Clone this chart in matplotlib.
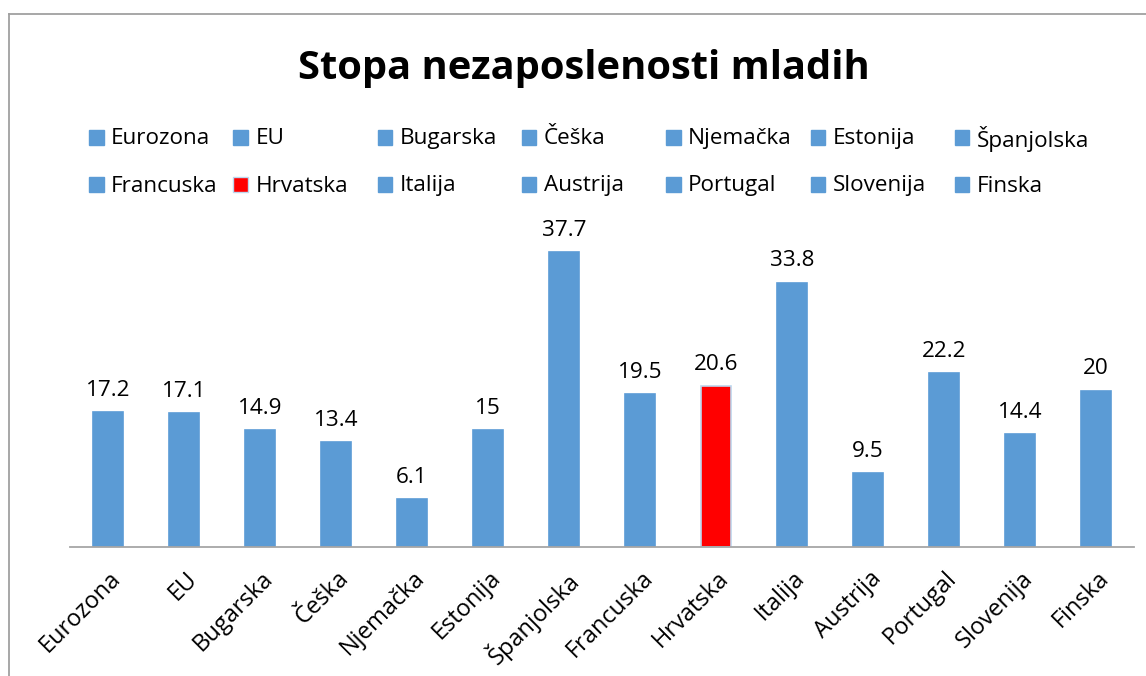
import matplotlib
matplotlib.use("Agg")
import matplotlib.pyplot as plt
import matplotlib.transforms as mtransforms
from matplotlib.patches import Rectangle
from matplotlib.lines import Line2D

categories = ["Eurozona", "EU", "Bugarska", "Češka", "Njemačka", "Estonija", "Španjolska",
              "Francuska", "Hrvatska", "Italija", "Austrija", "Portugal", "Slovenija", "Finska"]
values = [17.2, 17.1, 14.9, 13.4, 6.1, 15, 37.7, 19.5, 20.6, 33.8, 9.5, 22.2, 14.4, 20]
title = "Stopa nezaposlenosti mladih"

BLUE = "#5B9BD5"
RED = "#FF0000"
colors = [RED if c == "Hrvatska" else BLUE for c in categories]
edges = ["#BDD7EE" if c == "Hrvatska" else BLUE for c in categories]

plt.rcParams['font.family'] = ['Open Sans', 'DejaVu Sans']
FS = 16.2

W, H = 1146, 676
fig = plt.figure(figsize=(W / 100, H / 100), dpi=100)

def fx(px):
    return px / W

def fy(py):
    return 1 - py / H

# chart border (cropped on right/bottom)
fig.add_artist(Line2D([fx(9), fx(1146)], [fy(13.5), fy(13.5)], color="#A0A0A0", lw=1.3))
fig.add_artist(Line2D([fx(9), fx(9)], [fy(13.5), fy(676)], color="#A0A0A0", lw=1.3))

ax = fig.add_axes([fx(70), fy(547), fx(1134) - fx(70), fy(234) - fy(547)])
x = list(range(len(categories)))
bars = ax.bar(x, values, width=0.395, color=colors, edgecolor=edges, linewidth=1.2, zorder=2)
ax.set_xlim(-0.5, len(categories) - 0.5)
ax.set_ylim(0, 40)

for xi, v in zip(x, values):
    ax.annotate(f"{v:g}", (xi, v), xytext=(0, 8), textcoords="offset points",
                ha="center", va="bottom", fontsize=FS, color="#000000")

for s in ["top", "right", "left"]:
    ax.spines[s].set_visible(False)
ax.spines["bottom"].set_color("#A6A6A6")
ax.spines["bottom"].set_linewidth(1.3)
ax.set_yticks([])
ax.set_xticks(x)
ax.set_xticklabels(categories, rotation=45, ha="right", rotation_mode="anchor", fontsize=17)
ax.tick_params(axis="x", length=0, pad=14)
shift = mtransforms.ScaledTranslation(1 / 100, 0, fig.dpi_scale_trans)
for lab in ax.get_xticklabels():
    lab.set_transform(lab.get_transform() + shift)

fig.text(fx(584), fy(68), title, ha="center", va="center", fontsize=28.7, fontweight="bold")

# legend (Excel style, equal column widths)
col_w = 144.3
for i, (c, col) in enumerate(zip(categories, colors)):
    r, k = divmod(i, 7)
    mx = 89 + k * col_w
    my = 130 + r * 47.5
    fig.add_artist(Rectangle((fx(mx), fy(my + 14.5)), fx(14.5), fy(0) - fy(14.5),
                             facecolor=col, edgecolor=("#BDD7EE" if c == "Hrvatska" else col),
                             lw=1, transform=fig.transFigure))
    fig.text(fx(mx + 22), fy(my + 8.5), c, ha="left", va="center", fontsize=FS)

fig.savefig("out.png", dpi=100)
